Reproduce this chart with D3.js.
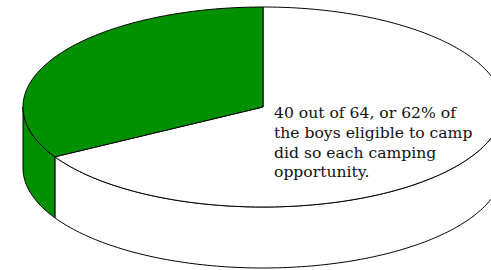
<!DOCTYPE html>
<html>
<head>
<meta charset="utf-8">
<script src="https://cdn.jsdelivr.net/npm/d3@7"></script>
<style>
  body { margin: 0; background: #fff; }
</style>
</head>
<body>
<div id="chart"></div>
<script>
// frame size
const FRAME_WIDTH = 491;
const FRAME_HEIGHT = 270;

// pie geometry (top ellipse centre, radii, depth of the wall)
const CX = 263;
const CY = 107;
const RX = 240;
const RY = 100;
const DEPTH = 61;

// data
const LABELS = ["camped", "did not camp"];
const VALUES = [66.7, 33.3];
const COLORS = ["#ffffff", "#009000"];
const NOTE = ["40 out of 64, or 62% of", "the boys eligible to camp", "did so each camping", "opportunity."];

const FRAME = d3.select("#chart")
                .append("svg")
                  .attr("width", FRAME_WIDTH)
                  .attr("height", FRAME_HEIGHT);

const pie = d3.pie().sort(null).value((d) => d.value);
const slices = pie(LABELS.map((l, i) => ({label: l, value: VALUES[i], color: COLORS[i]})));

// angle measured clockwise from 12 o'clock -> point on the tilted ellipse
function pt(a, dy) {
  return [CX + RX * Math.sin(a), CY - RY * Math.cos(a) + dy];
}

// points along the rim between two angles
function rim(a0, a1, dy) {
  const n = Math.max(2, Math.ceil(Math.abs(a1 - a0) / 0.02));
  const pts = [];
  for (let i = 0; i <= n; i++) {
    pts.push(pt(a0 + (a1 - a0) * i / n, dy));
  }
  return pts;
}

const line = d3.line();

// side walls: only the part facing the viewer (90deg .. 270deg)
const FRONT0 = Math.PI / 2;
const FRONT1 = Math.PI * 3 / 2;

FRAME.append("g")
  .selectAll("path")
  .data(slices.filter((d) => d.endAngle > FRONT0 && d.startAngle < FRONT1))
  .enter()
  .append("path")
    .attr("d", (d) => {
      const a0 = Math.max(d.startAngle, FRONT0);
      const a1 = Math.min(d.endAngle, FRONT1);
      const pts = rim(a0, a1, 0).concat(rim(a1, a0, DEPTH));
      return line(pts) + "Z";
    })
    .attr("fill", (d) => d.data.color)
    .attr("stroke", "#000")
    .attr("stroke-width", 1)
    .attr("stroke-linejoin", "round");

// top faces
FRAME.append("g")
  .selectAll("path")
  .data(slices)
  .enter()
  .append("path")
    .attr("d", (d) => line([[CX, CY]].concat(rim(d.startAngle, d.endAngle, 0))) + "Z")
    .attr("fill", (d) => d.data.color)
    .attr("stroke", "#000")
    .attr("stroke-width", 1)
    .attr("stroke-linejoin", "round");

// annotation
FRAME.append("text")
  .attr("x", 274)
  .attr("y", 118)
  .attr("font-family", "DejaVu Serif, serif")
  .attr("font-size", 15.6)
  .attr("fill", "#111")
  .selectAll("tspan")
  .data(NOTE)
  .enter()
  .append("tspan")
    .attr("x", 274)
    .attr("dy", (d, i) => i === 0 ? 0 : 19.8)
    .text((d) => d);
</script>
</body>
</html>
